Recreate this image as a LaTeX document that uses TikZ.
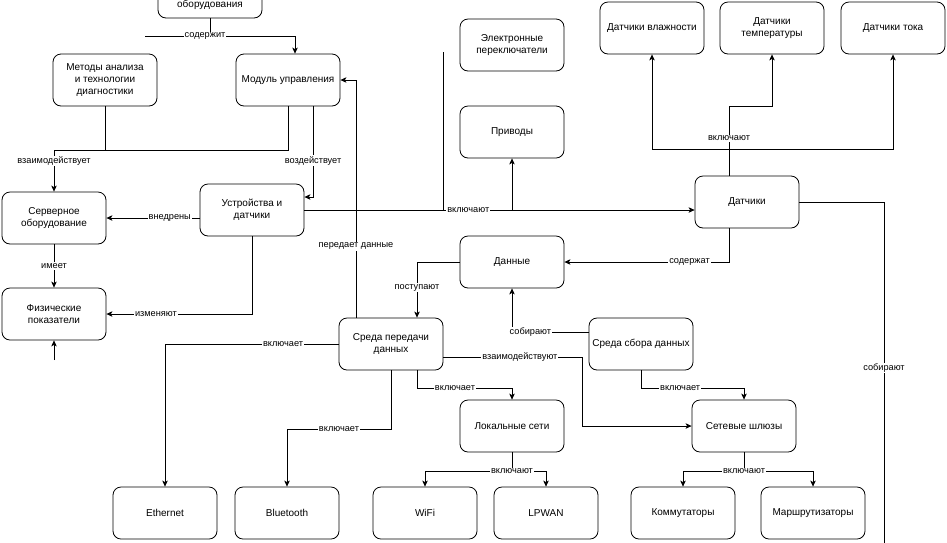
\documentclass[tikz,border=0pt]{standalone}
\usepackage{fontspec}
\setmainfont{Liberation Sans}
\usetikzlibrary{arrows.meta}

\begin{document}
\begin{tikzpicture}[x=1pt, y=-1pt, line width=0.8pt,
  box/.style={draw, rounded corners=8pt, minimum width=104pt, minimum height=52pt,
    align=center, inner sep=2pt, font=\fontsize{10}{12}\selectfont},
  lbl/.style={fill=white, inner sep=1pt, font=\fontsize{9.2}{11}\selectfont},
  arr/.style={-{Stealth[length=6pt,width=5.5pt,inset=1.5pt]}}]

\useasboundingbox (0,0) rectangle (947,542); %% spacing

%% boxes
\node[box, minimum height=26pt] (obor) at (210,5) {оборудования};
\node[box] (metod)  at (105,80)  {Методы анализа\\и технологии\\диагностики};
\node[box] (modul)  at (288,80)  {Модуль управления};
\node[box] (perekl) at (512,45)  {Электронные\\переключатели};
\node[box] (privod) at (512,132) {Приводы};
\node[box] (vlazh)  at (652,28)  {Датчики влажности};
\node[box] (temp)   at (772,28)  {Датчики\\температуры};
\node[box] (tok)    at (893,28)  {Датчики тока};

\node[box] (server) at (54,218)  {Серверное\\оборудование};
\node[box] (fiz)    at (54,314)  {Физические\\показатели};
\node[box] (ustr)   at (252,210) {Устройства и\\датчики};
\node[box] (datch)  at (747,202) {Датчики};
\node[box] (dannye) at (512,262) {Данные};
\node[box] (sreda)  at (391,344) {Среда передачи\\данных};
\node[box] (sbor)   at (641,344) {Среда сбора данных};
\node[box] (lokal)  at (512,426) {Локальные сети};
\node[box] (shluz)  at (744,426) {Сетевые шлюзы};

\node[box] (eth)    at (165,513) {Ethernet};
\node[box] (bt)     at (287,513) {Bluetooth};
\node[box] (wifi)   at (425,513) {WiFi};
\node[box] (lpwan)  at (546,513) {LPWAN};
\node[box] (komm)   at (683,513) {Коммутаторы};
\node[box] (marsh)  at (813,513) {Маршрутизаторы};

%% free ends
\coordinate (sodin)  at (145,36);
\coordinate (perin)  at (443,52);
\coordinate (fizin)  at (54,360);
\coordinate (sobout) at (884,548);

%% top left
\draw (obor.south) -- (obor.south |- sodin);
\draw[arr] (sodin) -| ([xshift=7pt]modul.north) node[lbl,pos=0.2]{содержит};
\draw (metod.south) -- ++(0,44);
\draw[arr] (modul.south) -- ++(0,44) -| (server.north) node[lbl,pos=0.63]{взаимодействует};
\draw[arr] ([xshift=25pt]modul.south) |- ([yshift=13pt]ustr.east) node[lbl,pos=0.3]{воздействует};
\draw[arr] (ustr.west |- server.east) -- (server.east) node[lbl,pos=0.32]{внедрены};
\draw[arr] (server.south) -- (fiz.north) node[lbl,midway]{имеет};
\draw[arr] (ustr.south) |- (fiz.east) node[lbl,pos=0.83]{изменяют};
\draw[arr] (fizin) -- (fiz.south);

%% devices line
\draw (perin) -- (perin |- ustr.east);
\draw[arr] (privod.south |- ustr.east) -- (privod.south);
\draw[arr] (ustr.east) -- (datch.west |- ustr.east) node[lbl,pos=0.42]{включают};
\draw[arr] ([xshift=-35pt]sreda.north) |- (modul.east) node[lbl,pos=0.15]{передает данные};

%% sensors
\draw[arr] ([xshift=-18pt]datch.north) -- ++(0,-69) node[lbl,pos=0.54]{включают} -| (temp.south);
\coordinate (dj) at ([xshift=-18pt,yshift=26pt]datch.north);
\draw[arr] (dj) -| (vlazh.south);
\draw[arr] (dj) -| (tok.south);
\draw[arr] ([xshift=-18pt]datch.south) |- (dannye.east) node[lbl,pos=0.62]{содержат};
\draw (datch.east) -| (sobout) node[lbl,pos=0.74]{собирают};

%% data
\draw[arr] (dannye.west) -| ([xshift=26pt]sreda.north) node[lbl,pos=0.73]{поступают};
\draw[arr] ([yshift=12pt]sbor.west) -| (dannye.south) node[lbl,pos=0.38]{собирают};
\draw[arr] ([yshift=-13pt]sreda.east) -- ++(139,0) node[lbl,pos=0.55]{взаимодействуют} |- (shluz.west);

%% networks
\draw[arr] ([xshift=26pt]sreda.south) -- ++(0,18) -| (lokal.north) node[lbl,pos=0.2]{включает};
\draw[arr] (sreda.south) -- ++(0,59) -| (bt.north) node[lbl,pos=0.25]{включает};
\draw[arr] (sreda.west) -| (eth.north) node[lbl,pos=0.16]{включает};
\draw[arr] (sbor.south) -- ++(0,18) -| (shluz.north) node[lbl,pos=0.19]{включает};

\draw (lokal.south) -- ++(0,19) coordinate (lj);
\draw[arr] (lj) -| (wifi.north);
\draw[arr] (lj) -| (lpwan.north);
\node[lbl] at (lj) {включают};

\draw (shluz.south) -- ++(0,19) coordinate (sj);
\draw[arr] (sj) -| (komm.north);
\draw[arr] (sj) -| (marsh.north);
\node[lbl] at (sj) {включают};

\end{tikzpicture}
\end{document}
